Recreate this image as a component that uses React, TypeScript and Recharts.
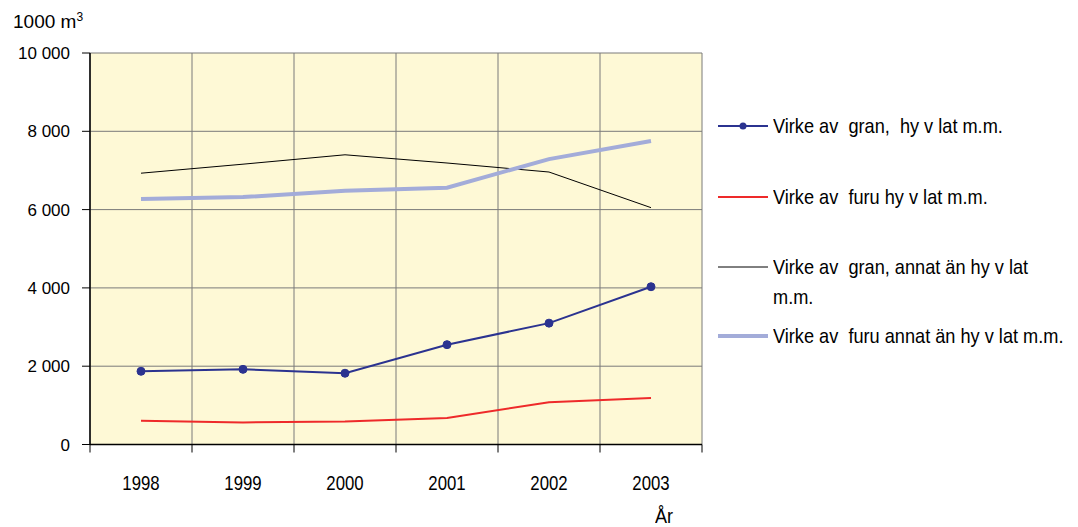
import React from 'react'
import { LineChart, Line, XAxis, YAxis, CartesianGrid } from 'recharts'

const years: number[] = [1998, 1999, 2000, 2001, 2002, 2003]
const granHyvlat: number[] = [1870, 1920, 1820, 2550, 3100, 4030]
const furuHyvlat: number[] = [605, 565, 590, 675, 1080, 1190]
const granAnnat: number[] = [6930, 7160, 7400, 7190, 6960, 6050]
const furuAnnat: number[] = [6270, 6320, 6480, 6560, 7290, 7750]
const yTicks: number[] = [0, 2000, 4000, 6000, 8000, 10000]
const boundaryTicks: number[] = [1997.5, 1998.5, 1999.5, 2000.5, 2001.5, 2002.5, 2003.5]

const font = "'Liberation Sans', Arial, sans-serif"

interface Series {
  key: string
  name: string[]
  color: string
  width: number
  dot: boolean
}

const series: Series[] = [
  { key: 'granHyvlat', name: ['Virke av  gran,  hy v lat m.m.'], color: '#2b3390', width: 2, dot: true },
  { key: 'furuHyvlat', name: ['Virke av  furu hy v lat m.m.'], color: '#ee2a2a', width: 2, dot: false },
  { key: 'granAnnat', name: ['Virke av  gran, annat än hy v lat', 'm.m.'], color: '#000000', width: 1, dot: false },
  { key: 'furuAnnat', name: ['Virke av  furu annat än hy v lat m.m.'], color: '#a3acd9', width: 4, dot: false },
]

const data = years.map((year, i) => ({
  year,
  granHyvlat: granHyvlat[i],
  furuHyvlat: furuHyvlat[i],
  granAnnat: granAnnat[i],
  furuAnnat: furuAnnat[i],
}))

const fmt = (v: number) => v.toLocaleString('en-US').replace(/,/g, ' ')

// narrow-looking year labels (no condensed font available)
const YearTick = (props: any) => {
  const { x, y, payload } = props
  return (
    <g transform={`translate(${x},${y})`}>
      <text transform="scale(0.84,1)" textAnchor="middle" dy="0.71em" fontSize={20} fontFamily={font} fill="#000">
        {payload.value}
      </text>
    </g>
  )
}

// row tops (wrapper coords) so line centres land at 126/197/267/336 on the page
const rowTops = [103, 174, 244, 313]

const App: React.FC = () => {
  return (
    <div style={{ position: 'relative', width: 1070, height: 519, fontFamily: font }}>
      <div style={{ position: 'absolute', left: 5, top: 2, fontSize: 19, fontFamily: font }}>
        1000 m<sup style={{ fontSize: 12 }}>3</sup>
      </div>
      <LineChart width={1070} height={519} data={data} margin={{ top: 45, right: 376, left: 0, bottom: 0 }}>
        <CartesianGrid xAxisId="grid" stroke="#7a7a7a" fill="#fef9d6" />
        <XAxis
          xAxisId="grid"
          dataKey="year"
          type="number"
          domain={[1997.5, 2003.5]}
          ticks={boundaryTicks}
          tickFormatter={() => ''}
          tickSize={8}
          height={10}
          stroke="#000"
          axisLine={{ stroke: '#000', strokeWidth: 1.5 }}
        />
        <XAxis
          xAxisId="labels"
          dataKey="year"
          type="number"
          domain={[1997.5, 2003.5]}
          ticks={years}
          axisLine={false}
          tickLine={false}
          tickSize={0}
          tickMargin={21}
          height={72.5}
          tick={<YearTick />}
        />
        <YAxis
          domain={[0, 10000]}
          ticks={yTicks}
          width={82}
          tickSize={8}
          tickMargin={12}
          tickFormatter={fmt}
          axisLine={{ stroke: '#000', strokeWidth: 1.5 }}
          tickLine={{ stroke: '#000' }}
          tick={{ fill: '#000', fontSize: 17, fontFamily: font }}
        />
        {series.map(s => (
          <Line
            key={s.key}
            xAxisId="grid"
            dataKey={s.key}
            type="linear"
            stroke={s.color}
            strokeWidth={s.width}
            dot={s.dot ? { r: 4, fill: s.color, stroke: s.color, strokeWidth: 1 } : false}
            isAnimationActive={false}
          />
        ))}
      </LineChart>
      {series.map((s, i) => (
        <div key={s.key} style={{ position: 'absolute', left: 710, top: rowTops[i], display: 'flex', alignItems: 'flex-start', fontSize: 21, color: '#000' }}>
          <svg width={50} height={30} style={{ display: 'block' }}>
            <line x1={0} x2={50} y1={15} y2={15} stroke={s.color} strokeWidth={s.width} />
            {s.dot && <circle cx={25} cy={15} r={3.5} fill={s.color} />}
          </svg>
          <div style={{ marginLeft: 5, lineHeight: '30px', whiteSpace: 'pre', transform: 'scaleX(0.865)', transformOrigin: 'left center' }}>
            {s.name.map((t, j) => <div key={j}>{t}</div>)}
          </div>
        </div>
      ))}
      <div style={{ position: 'absolute', left: 647, top: 496, fontSize: 21, fontFamily: font, transform: 'scaleX(0.86)', transformOrigin: 'left center' }}>År</div>
    </div>
  )
}

export default App
